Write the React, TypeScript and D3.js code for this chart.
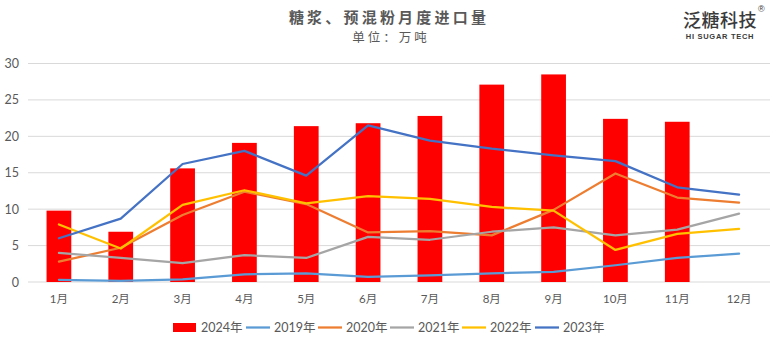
import React from "react";
import * as d3 from "d3";

const months = ["1月", "2月", "3月", "4月", "5月", "6月", "7月", "8月", "9月", "10月", "11月", "12月"];
const yTicks = [0, 5, 10, 15, 20, 25, 30];
const bars2024 = [9.8, 6.9, 15.6, 19.1, 21.4, 21.8, 22.8, 27.1, 28.5, 22.4, 22.0, null];
const s2019 = [0.3, 0.15, 0.35, 1.05, 1.2, 0.7, 0.9, 1.2, 1.4, 2.3, 3.3, 3.9];
const s2020 = [2.8, 4.7, 9.2, 12.4, 10.7, 6.8, 7.0, 6.4, 9.9, 14.9, 11.6, 10.9];
const s2021 = [4.0, 3.3, 2.6, 3.7, 3.3, 6.2, 5.8, 6.9, 7.5, 6.4, 7.2, 9.4];
const s2022 = [7.9, 4.6, 10.6, 12.6, 10.8, 11.8, 11.4, 10.3, 9.8, 4.4, 6.6, 7.3];
const s2023 = [6.0, 8.7, 16.2, 18.0, 14.6, 21.5, 19.4, 18.3, 17.4, 16.6, 13.0, 12.0];

const lineSeries = [
  { name: "2019年", values: s2019, color: "#5B9BD5" },
  { name: "2020年", values: s2020, color: "#ED7D31" },
  { name: "2021年", values: s2021, color: "#A5A5A5" },
  { name: "2022年", values: s2022, color: "#FFC000" },
  { name: "2023年", values: s2023, color: "#4472C4" },
];

const W = 780;
const H = 348;
const plot = { left: 28, right: 770, top: 63.5, bottom: 282 };
const font = "Lato, 'Noto Sans CJK SC', sans-serif";
const textColor = "#595959";

export default function App() {
  const x = d3.scaleBand<string>().domain(months).range([plot.left, plot.right]).paddingInner(0.6).paddingOuter(0.3);
  const xc = d3.scalePoint<string>().domain(months).range([plot.left, plot.right]).padding(0.5);
  const y = d3.scaleLinear().domain([0, 30]).range([plot.bottom, plot.top]);
  const line = d3
    .line<number>()
    .x((_, i) => xc(months[i]) as number)
    .y((d) => y(d));

  const legendItems = [
    { name: "2024年", color: "#FF0000", bar: true, x: 173 },
    { name: "2019年", color: "#5B9BD5", bar: false, x: 246 },
    { name: "2020年", color: "#ED7D31", bar: false, x: 318 },
    { name: "2021年", color: "#A5A5A5", bar: false, x: 390 },
    { name: "2022年", color: "#FFC000", bar: false, x: 462 },
    { name: "2023年", color: "#4472C4", bar: false, x: 535 },
  ];

  return (
    <svg width={W} height={H} style={{ position: "absolute", left: 0, top: 0, background: "#fff" }}>
      <rect x={0} y={0} width={W} height={H} fill="#fff" />
      {/* title */}
      <text x={389} y={23} textAnchor="middle" fontFamily="'Noto Sans CJK SC', sans-serif" fontWeight={700} fontSize={15} fill={textColor} letterSpacing={3.2}>
        糖浆、预混粉月度进口量
      </text>
      <text x={391} y={42} textAnchor="middle" fontFamily="'Noto Sans CJK SC', sans-serif" fontSize={12.5} fill={textColor} letterSpacing={3}>
        单位：万吨
      </text>
      {/* logo */}
      <text x={683} y={27} fontFamily="'Noto Sans CJK SC', sans-serif" fontSize={18} fontWeight={500} fill="#3a3a3a" letterSpacing={0.5}>
        泛糖科技
      </text>
      <text x={758} y={12} fontFamily="'Liberation Sans', sans-serif" fontSize={9} fill="#3a3a3a">
        ®
      </text>
      <text x={720} y={38.5} textAnchor="middle" fontFamily="'Liberation Sans', sans-serif" fontWeight={700} fontSize={7.5} fill="#3a3a3a" letterSpacing={0.7}>
        HI SUGAR TECH
      </text>
      {/* grid */}
      {yTicks.map((t) => (
        <g key={t}>
          <line x1={plot.left} x2={plot.right} y1={y(t)} y2={y(t)} stroke="#d9d9d9" strokeWidth={1} />
          <text x={19} y={y(t) + 4.5} textAnchor="end" fontFamily={font} fontSize={12.5} fill={textColor}>
            {t}
          </text>
        </g>
      ))}
      {/* bars */}
      {bars2024.map((v, i) =>
        v == null ? null : (
          <rect key={i} x={x(months[i])} y={y(v)} width={x.bandwidth()} height={y(0) - y(v)} fill="#FF0000" />
        )
      )}
      {/* lines */}
      {lineSeries.map((s) => (
        <path key={s.name} d={line(s.values) || ""} fill="none" stroke={s.color} strokeWidth={2.25} strokeLinejoin="round" strokeLinecap="round" />
      ))}
      {/* x labels */}
      {months.map((m) => (
        <text key={m} x={xc(m)} y={303} textAnchor="middle" fontFamily={font} fontSize={11.5} fill={textColor}>
          {m}
        </text>
      ))}
      {/* legend */}
      {legendItems.map((it) => (
        <g key={it.name}>
          {it.bar ? (
            <rect x={it.x} y={323} width={23} height={9} fill={it.color} />
          ) : (
            <line x1={it.x} x2={it.x + 24} y1={327.5} y2={327.5} stroke={it.color} strokeWidth={2.25} />
          )}
          <text x={it.x + 28} y={332} fontFamily={font} fontSize={12.5} fill={textColor}>
            {it.name}
          </text>
        </g>
      ))}
    </svg>
  );
}
